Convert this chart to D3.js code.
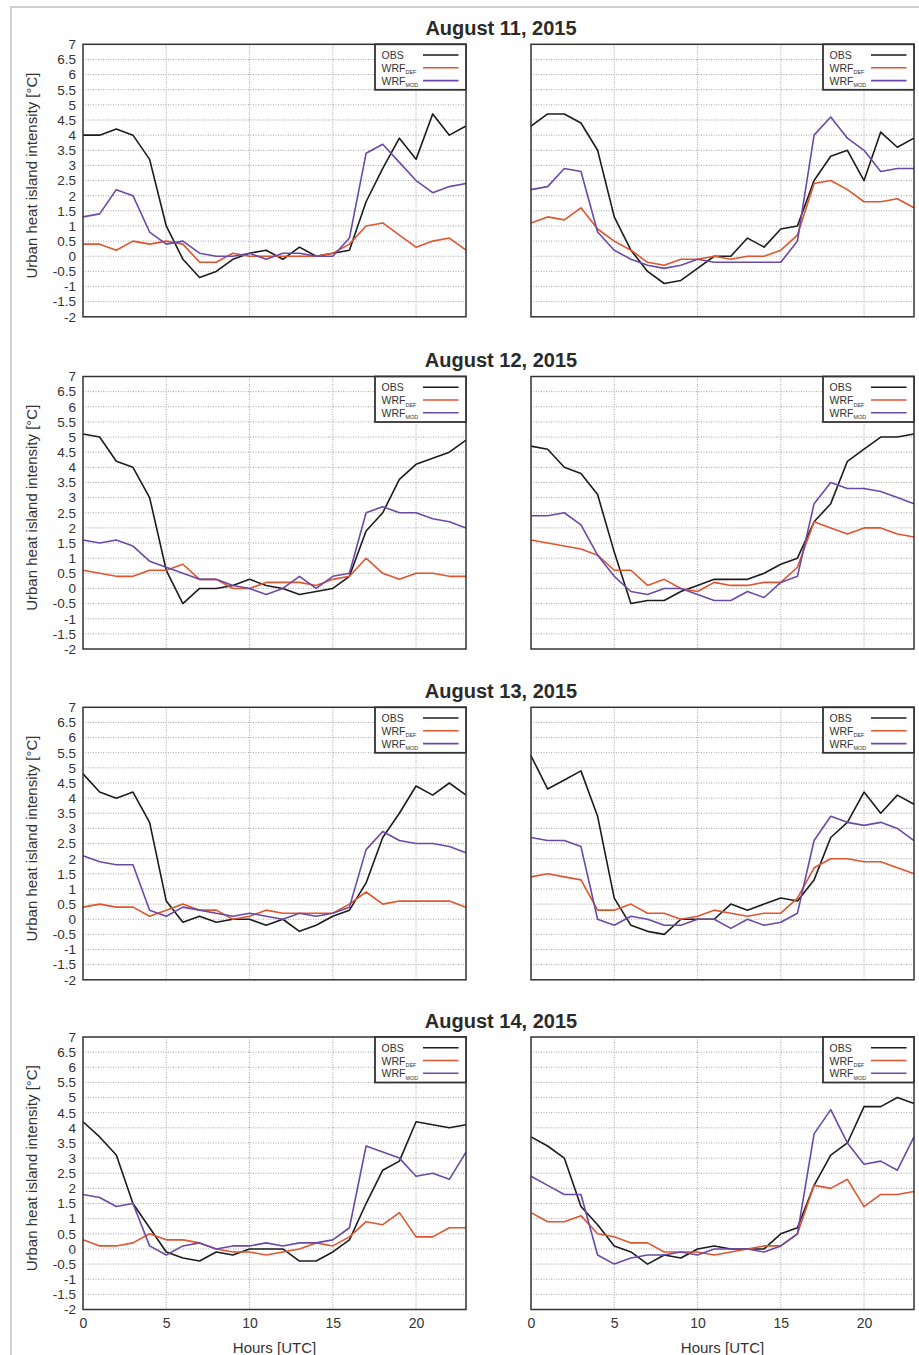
<!DOCTYPE html>
<html>
<head>
<meta charset="utf-8">
<script src="https://cdn.jsdelivr.net/npm/d3@7"></script>
<style>
  html, body { margin: 0; padding: 0; background: #fff; }
  svg { display: block; font-family: "Liberation Sans", Arial, sans-serif; }
</style>
</head>
<body>
<svg id="chart" width="919" height="1355"></svg>
<script>
// Hourly urban heat island intensity (°C), two stations per day
const hours = [0,1,2,3,4,5,6,7,8,9,10,11,12,13,14,15,16,17,18,19,20,21,22,23];
const yTicks = [-2,-1.5,-1,-0.5,0,0.5,1,1.5,2,2.5,3,3.5,4,4.5,5,5.5,6,6.5,7];
const xTicks = [0,5,10,15,20];
const dayTitles = ["August 11, 2015", "August 12, 2015", "August 13, 2015", "August 14, 2015"];
const seriesNames = ["OBS", "WRF", "WRF"];
const seriesSubs = ["", "DEF", "MOD"];

// August 11
const obs11a = [4.0,4.0,4.2,4.0,3.2,1.0,-0.1,-0.7,-0.5,-0.1,0.1,0.2,-0.1,0.3,0.0,0.1,0.2,1.8,2.9,3.9,3.2,4.7,4.0,4.3];
const def11a = [0.4,0.4,0.2,0.5,0.4,0.5,0.4,-0.2,-0.2,0.1,0.0,0.0,0.0,0.0,0.0,0.1,0.4,1.0,1.1,0.7,0.3,0.5,0.6,0.2];
const mod11a = [1.3,1.4,2.2,2.0,0.8,0.4,0.5,0.1,0.0,0.0,0.1,-0.1,0.1,0.1,0.0,0.0,0.6,3.4,3.7,3.1,2.5,2.1,2.3,2.4];
const obs11b = [4.3,4.7,4.7,4.4,3.5,1.3,0.2,-0.5,-0.9,-0.8,-0.4,0.0,0.0,0.6,0.3,0.9,1.0,2.5,3.3,3.5,2.5,4.1,3.6,3.9];
const def11b = [1.1,1.3,1.2,1.6,0.9,0.5,0.2,-0.2,-0.3,-0.1,-0.1,0.0,-0.1,0.0,0.0,0.2,0.7,2.4,2.5,2.2,1.8,1.8,1.9,1.6];
const mod11b = [2.2,2.3,2.9,2.8,0.8,0.2,-0.1,-0.3,-0.4,-0.3,-0.1,-0.2,-0.2,-0.2,-0.2,-0.2,0.5,4.0,4.6,3.9,3.5,2.8,2.9,2.9];

// August 12
const obs12a = [5.1,5.0,4.2,4.0,3.0,0.6,-0.5,0.0,0.0,0.1,0.3,0.1,0.0,-0.2,-0.1,0.0,0.4,1.9,2.5,3.6,4.1,4.3,4.5,4.9];
const def12a = [0.6,0.5,0.4,0.4,0.6,0.6,0.8,0.3,0.3,0.0,0.0,0.2,0.2,0.2,0.1,0.3,0.4,1.0,0.5,0.3,0.5,0.5,0.4,0.4];
const mod12a = [1.6,1.5,1.6,1.4,0.9,0.7,0.5,0.3,0.3,0.1,0.0,-0.2,0.0,0.4,0.0,0.4,0.5,2.5,2.7,2.5,2.5,2.3,2.2,2.0];
const obs12b = [4.7,4.6,4.0,3.8,3.1,1.2,-0.5,-0.4,-0.4,-0.1,0.1,0.3,0.3,0.3,0.5,0.8,1.0,2.2,2.8,4.2,4.6,5.0,5.0,5.1];
const def12b = [1.6,1.5,1.4,1.3,1.1,0.6,0.6,0.1,0.3,0.0,-0.1,0.2,0.1,0.1,0.2,0.2,0.7,2.2,2.0,1.8,2.0,2.0,1.8,1.7];
const mod12b = [2.4,2.4,2.5,2.1,1.1,0.4,-0.1,-0.2,0.0,0.0,-0.2,-0.4,-0.4,-0.1,-0.3,0.2,0.4,2.8,3.5,3.3,3.3,3.2,3.0,2.8];

// August 13
const obs13a = [4.8,4.2,4.0,4.2,3.2,0.6,-0.1,0.1,-0.1,0.0,0.0,-0.2,0.0,-0.4,-0.2,0.1,0.3,1.2,2.7,3.5,4.4,4.1,4.5,4.1];
const def13a = [0.4,0.5,0.4,0.4,0.1,0.3,0.5,0.3,0.3,0.0,0.1,0.3,0.2,0.2,0.2,0.2,0.5,0.9,0.5,0.6,0.6,0.6,0.6,0.4];
const mod13a = [2.1,1.9,1.8,1.8,0.3,0.1,0.4,0.3,0.2,0.1,0.2,0.1,0.0,0.2,0.1,0.2,0.4,2.3,2.9,2.6,2.5,2.5,2.4,2.2];
const obs13b = [5.4,4.3,4.6,4.9,3.4,0.7,-0.2,-0.4,-0.5,0.0,0.0,0.0,0.5,0.3,0.5,0.7,0.6,1.3,2.7,3.2,4.2,3.5,4.1,3.8];
const def13b = [1.4,1.5,1.4,1.3,0.3,0.3,0.5,0.2,0.2,0.0,0.1,0.3,0.2,0.1,0.2,0.2,0.7,1.7,2.0,2.0,1.9,1.9,1.7,1.5];
const mod13b = [2.7,2.6,2.6,2.4,0.0,-0.2,0.1,0.0,-0.2,-0.2,0.0,0.0,-0.3,0.0,-0.2,-0.1,0.2,2.6,3.4,3.2,3.1,3.2,3.0,2.6];

// August 14
const obs14a = [4.2,3.7,3.1,1.5,0.7,-0.1,-0.3,-0.4,-0.1,-0.2,0.0,0.0,0.0,-0.4,-0.4,-0.1,0.3,1.5,2.6,2.9,4.2,4.1,4.0,4.1];
const def14a = [0.3,0.1,0.1,0.2,0.5,0.3,0.3,0.2,0.0,-0.1,-0.1,-0.2,-0.1,0.0,0.2,0.1,0.4,0.9,0.8,1.2,0.4,0.4,0.7,0.7];
const mod14a = [1.8,1.7,1.4,1.5,0.1,-0.2,0.1,0.2,0.0,0.1,0.1,0.2,0.1,0.2,0.2,0.3,0.7,3.4,3.2,3.0,2.4,2.5,2.3,3.2];
const obs14b = [3.7,3.4,3.0,1.4,0.8,0.1,-0.1,-0.5,-0.2,-0.3,0.0,0.1,0.0,0.0,0.0,0.5,0.7,2.1,3.1,3.5,4.7,4.7,5.0,4.8];
const def14b = [1.2,0.9,0.9,1.1,0.5,0.4,0.2,0.2,-0.1,-0.1,-0.1,-0.2,-0.1,0.0,0.1,0.1,0.5,2.1,2.0,2.3,1.4,1.8,1.8,1.9];
const mod14b = [2.4,2.1,1.8,1.8,-0.2,-0.5,-0.3,-0.2,-0.2,-0.1,-0.2,0.0,0.0,0.0,-0.1,0.1,0.5,3.8,4.6,3.5,2.8,2.9,2.6,3.7];

const seriesColors = ["#1c1c1c", "#e0552e", "#6a4aa6"];

const rows = [
  [[obs11a, def11a, mod11a], [obs11b, def11b, mod11b]],
  [[obs12a, def12a, mod12a], [obs12b, def12b, mod12b]],
  [[obs13a, def13a, mod13a], [obs13b, def13b, mod13b]],
  [[obs14a, def14a, mod14a], [obs14b, def14b, mod14b]]
];

// Layout
const colLeft = [83, 531];
const plotW = 383;
const plotH = 272.5;
const rowTop = [44.3, 376.5, 707.3, 1037];

const svg = d3.select("#chart");

// outer frame (top and left edges)
svg.append("path")
  .attr("d", "M11,1355 L11,7 L919,7")
  .attr("fill", "none")
  .attr("stroke", "#c4c4c4")
  .attr("stroke-width", 1.5);

const x = d3.scaleLinear().domain([0, 23]).range([0, plotW]);
const y = d3.scaleLinear().domain([-2, 7]).range([plotH, 0]);

const line = d3.line().x((d, i) => x(hours[i])).y(d => y(d));

rows.forEach((row, r) => {
  // day title
  svg.append("text")
    .attr("x", 501)
    .attr("y", rowTop[r] - 9.5)
    .attr("text-anchor", "middle")
    .attr("font-size", 20)
    .attr("font-weight", "bold")
    .attr("fill", "#2a2a2a")
    .text(dayTitles[r]);

  row.forEach((series, c) => {
    const g = svg.append("g").attr("transform", `translate(${colLeft[c]},${rowTop[r]})`);

    // dotted grid
    g.append("g")
      .selectAll("line")
      .data(yTicks.filter(v => v > -2 && v < 7))
      .join("line")
      .attr("x1", 0).attr("x2", plotW)
      .attr("y1", d => y(d)).attr("y2", d => y(d))
      .attr("stroke", "#8f8f8f")
      .attr("stroke-width", 0.8)
      .attr("stroke-dasharray", "1,1.5");
    g.append("g")
      .selectAll("line")
      .data(xTicks.filter(v => v > 0))
      .join("line")
      .attr("x1", d => x(d)).attr("x2", d => x(d))
      .attr("y1", 0).attr("y2", plotH)
      .attr("stroke", "#8f8f8f")
      .attr("stroke-width", 0.8)
      .attr("stroke-dasharray", "1,1.5");

    // y axis labels on the left column only
    if (c === 0) {
      const ya = g.append("g")
        .call(d3.axisLeft(y).tickValues(yTicks).tickSize(0).tickPadding(7).tickFormat(d => String(d)));
      ya.select(".domain").remove();
      ya.selectAll("text")
        .attr("font-size", 13.5)
        .attr("fill", "#333")
        .attr("font-family", "Liberation Sans, Arial, sans-serif");

      svg.append("text")
        .attr("transform", `translate(37,${rowTop[r] + plotH / 2 - 5}) rotate(-90)`)
        .attr("text-anchor", "middle")
        .attr("font-size", 15)
        .attr("fill", "#333")
        .text("Urban heat island intensity [°C]");
    }

    // x axis labels on the bottom row only
    if (r === rows.length - 1) {
      const xa = g.append("g")
        .attr("transform", `translate(0,${plotH})`)
        .call(d3.axisBottom(x).tickValues(xTicks).tickSize(0).tickPadding(9).tickFormat(d => String(d)));
      xa.select(".domain").remove();
      xa.selectAll("text")
        .attr("font-size", 14)
        .attr("fill", "#333")
        .attr("font-family", "Liberation Sans, Arial, sans-serif");

      g.append("text")
        .attr("x", plotW / 2)
        .attr("y", plotH + 43)
        .attr("text-anchor", "middle")
        .attr("font-size", 15)
        .attr("fill", "#333")
        .text("Hours [UTC]");
    }

    // series lines
    series.forEach((vals, k) => {
      g.append("path")
        .datum(vals)
        .attr("d", line)
        .attr("fill", "none")
        .attr("stroke", seriesColors[k])
        .attr("stroke-width", 1.6)
        .attr("stroke-linejoin", "round");
    });

    // plot frame
    g.append("rect")
      .attr("x", 0).attr("y", 0)
      .attr("width", plotW).attr("height", plotH)
      .attr("fill", "none")
      .attr("stroke", "#333")
      .attr("stroke-width", 1.5);

    // legend
    const lg = g.append("g").attr("transform", `translate(${plotW - 91},0)`);
    lg.append("rect")
      .attr("x", 0).attr("y", 0)
      .attr("width", 91).attr("height", 45.5)
      .attr("fill", "#fff")
      .attr("stroke", "#333")
      .attr("stroke-width", 1.8);
    seriesNames.forEach((name, k) => {
      const cy = 10.7 + k * 12.8;
      const t = lg.append("text")
        .attr("x", 6.5)
        .attr("y", cy + 4)
        .attr("font-size", 10.5)
        .attr("fill", "#333");
      t.append("tspan").text(name);
      if (seriesSubs[k]) {
        t.append("tspan")
          .attr("font-size", 5.5)
          .attr("dy", 2.5)
          .text(seriesSubs[k]);
      }
      lg.append("line")
        .attr("x1", 48).attr("x2", 83.5)
        .attr("y1", cy).attr("y2", cy)
        .attr("stroke", seriesColors[k])
        .attr("stroke-width", 1.6);
    });
  });
});
</script>
</body>
</html>
